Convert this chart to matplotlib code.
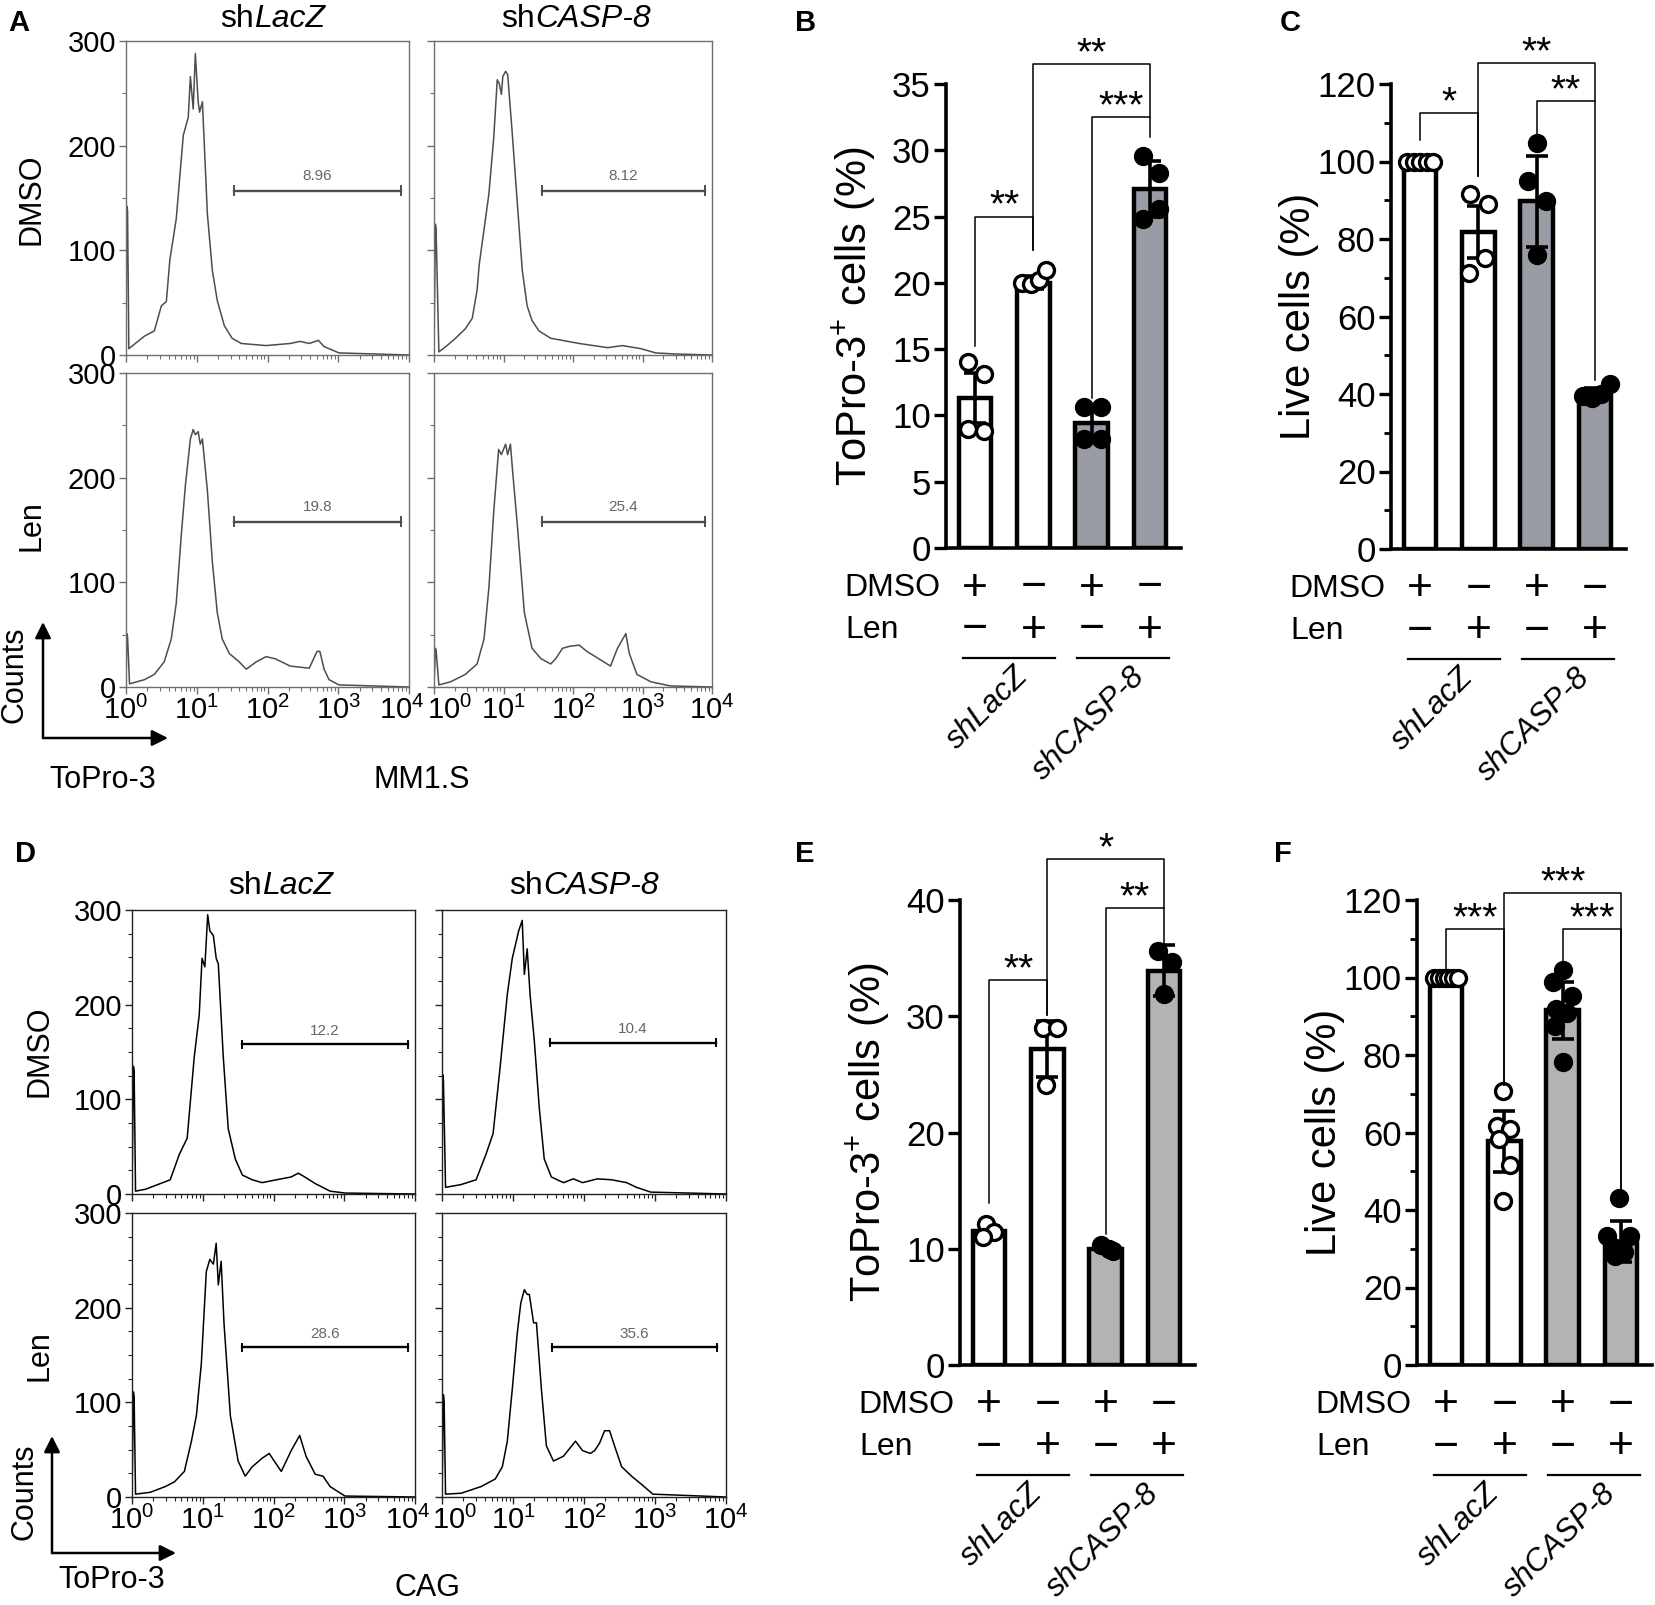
import numpy as np
import matplotlib.pyplot as plt
from matplotlib.ticker import FixedLocator, NullFormatter, MultipleLocator, LogLocator

plt.rcParams['font.family'] = ['Liberation Sans', 'DejaVu Sans']
plt.rcParams['mathtext.fontset'] = 'custom'
plt.rcParams['mathtext.rm'] = 'Liberation Sans'
plt.rcParams['mathtext.it'] = 'Liberation Sans:italic'
plt.rcParams['mathtext.default'] = 'regular'

# ---------------- data: flow histograms (log10 intensity, counts) ----------------
A_lacz_dmso_x = [0.0, 0.012, 0.022, 0.04, 0.26, 0.40, 0.50, 0.57, 0.62, 0.71, 0.81, 0.88, 0.91, 0.95, 0.98, 1.02,
                 1.04, 1.08, 1.15, 1.22, 1.29, 1.39, 1.50, 1.63, 1.98, 2.32, 2.46, 2.59, 2.72, 2.80, 3.01, 4.0]
A_lacz_dmso_y = [0, 142, 138, 6, 18, 23, 47, 51, 91, 130, 210, 227, 266, 235, 288, 242,
                 232, 242, 135, 81, 52, 28, 16, 11, 9, 11, 13, 11, 14, 8, 2, 0]
A_casp_dmso_x = [0.0, 0.02, 0.03, 0.07, 0.17, 0.31, 0.45, 0.55, 0.62, 0.65, 0.72, 0.79, 0.86, 0.91, 0.94, 0.97, 0.99,
                 1.03, 1.06, 1.12, 1.20, 1.27, 1.34, 1.41, 1.51, 1.68, 2.09, 2.50, 2.71, 2.98, 3.19, 3.46, 4.0]
A_casp_dmso_y = [0, 125, 120, 3, 8, 16, 25, 35, 62, 86, 120, 154, 208, 263, 259, 249, 266,
                 271, 268, 217, 144, 81, 47, 33, 23, 16, 11, 7, 9, 6, 2, 1, 0]
A_lacz_len_x = [0.0, 0.012, 0.022, 0.05, 0.26, 0.40, 0.54, 0.64, 0.71, 0.78, 0.84, 0.91, 0.95, 0.98, 1.02, 1.05, 1.08,
                1.15, 1.22, 1.29, 1.36, 1.46, 1.60, 1.70, 1.84, 1.98, 2.11, 2.32, 2.59, 2.70, 2.74, 2.80, 2.87, 3.01, 4.0]
A_lacz_len_y = [0, 51, 48, 3, 7, 12, 24, 46, 80, 144, 193, 237, 246, 241, 244, 232, 237,
                188, 120, 71, 46, 32, 24, 17, 24, 29, 27, 20, 18, 34, 34, 17, 7, 2, 0]
A_casp_len_x = [0.0, 0.02, 0.03, 0.07, 0.24, 0.45, 0.62, 0.72, 0.79, 0.86, 0.93, 0.97, 1.03, 1.06, 1.10, 1.13, 1.20,
                1.30, 1.41, 1.54, 1.68, 1.75, 1.85, 1.96, 2.09, 2.20, 2.37, 2.54, 2.64, 2.76, 2.81, 2.92, 3.12, 3.40, 4.0]
A_casp_len_y = [0, 37, 35, 2, 5, 12, 22, 46, 95, 168, 227, 222, 232, 222, 232, 207, 154,
                71, 37, 27, 22, 27, 37, 39, 40, 34, 27, 20, 37, 51, 32, 12, 5, 1, 0]

D_lacz_dmso_x = [0.0, 0.02, 0.03, 0.05, 0.19, 0.40, 0.54, 0.67, 0.78, 0.88, 0.95, 0.99, 1.03, 1.07, 1.10, 1.15,
                 1.19, 1.22, 1.29, 1.36, 1.46, 1.56, 1.70, 1.84, 2.04, 2.25, 2.35, 2.42, 2.59, 2.80, 3.01, 4.0]
D_lacz_dmso_y = [0, 135, 130, 3, 5, 11, 15, 42, 59, 145, 189, 249, 240, 295, 278, 273,
                 249, 243, 145, 69, 37, 20, 15, 12, 15, 18, 22, 19, 11, 3, 1, 0]
D_casp_dmso_x = [0.0, 0.01, 0.02, 0.05, 0.27, 0.48, 0.62, 0.72, 0.82, 0.92, 0.99, 1.04, 1.08, 1.13, 1.16,
                 1.20, 1.24, 1.30, 1.37, 1.44, 1.54, 1.71, 1.85, 1.98, 2.19, 2.39, 2.60, 2.74, 2.94, 4.0]
D_casp_dmso_y = [0, 126, 120, 7, 10, 15, 42, 64, 135, 211, 249, 265, 278, 289, 232,
                 259, 211, 162, 91, 37, 18, 12, 16, 12, 16, 15, 12, 7, 2, 0]
D_lacz_len_x = [0.0, 0.02, 0.03, 0.05, 0.26, 0.47, 0.60, 0.74, 0.84, 0.91, 0.98, 1.05, 1.10, 1.15, 1.19, 1.22, 1.26,
                1.30, 1.39, 1.50, 1.60, 1.70, 1.84, 1.94, 2.01, 2.11, 2.25, 2.37, 2.46, 2.59, 2.70, 2.80, 3.01, 4.0]
D_lacz_len_y = [0, 111, 105, 3, 5, 11, 16, 27, 59, 86, 141, 238, 251, 246, 268, 224, 249,
                184, 86, 38, 22, 32, 41, 46, 38, 27, 49, 65, 43, 24, 22, 11, 1, 0]
D_casp_len_x = [0.0, 0.02, 0.03, 0.05, 0.27, 0.55, 0.75, 0.85, 0.92, 0.99, 1.06, 1.11, 1.16, 1.20, 1.23, 1.29, 1.33,
                1.40, 1.47, 1.57, 1.71, 1.88, 1.98, 2.09, 2.15, 2.22, 2.29, 2.36, 2.43, 2.53, 2.67, 2.80, 2.97, 4.0]
D_casp_len_y = [0, 108, 100, 3, 4, 11, 19, 32, 59, 114, 173, 205, 219, 214, 214, 184, 184,
                114, 54, 38, 43, 59, 49, 46, 49, 57, 70, 70, 54, 32, 22, 14, 3, 0]

# gates: (log10 start, log10 end, counts level) and percentages
A_gates = [(1.53, 3.88, 157), (1.557, 3.897, 157), (1.53, 3.88, 158), (1.557, 3.897, 158)]
A_gate_txt = ['8.96', '8.12', '19.8', '25.4']
D_gates = [(1.55, 3.90, 158), (1.52, 3.86, 160), (1.55, 3.90, 158), (1.55, 3.88, 158)]
D_gate_txt = ['12.2', '10.4', '28.6', '35.6']
decade_labels = [r'$10^{%d}$' % k for k in range(5)]

# ---------------- data: bar charts ----------------
dmso_signs = ['+', '\u2212', '+', '\u2212']
len_signs = ['\u2212', '+', '\u2212', '+']
groups = ['shLacZ', 'shCASP-8']

B_mean = [11.3, 20.0, 9.4, 27.1]
B_sd = [1.9, 0.5, 1.0, 2.1]
B_pts = [[14.0, 13.1, 9.0, 8.8], [20.0, 19.9, 20.2, 21.0], [10.6, 10.6, 8.2, 8.2], [29.6, 28.3, 24.8, 25.6]]
B_jit = [[-0.12, 0.15, -0.12, 0.15], [-0.2, -0.05, 0.1, 0.22], [-0.13, 0.15, -0.13, 0.15], [-0.12, 0.15, -0.12, 0.15]]
B_sig = [(0, 1, 25.0, 15.2, 22.5, '**'), (2, 3, 32.5, 11.3, 31.0, '***'), (1, 3, 36.5, 22.5, 32.5, '**')]

C_mean = [100.0, 81.8, 89.7, 40.2]
C_sd = [0.3, 6.6, 11.8, 1.3]
C_pts = [[100, 100, 100, 100, 100], [91.7, 89.0, 75.2, 71.2], [104.8, 94.9, 89.7, 75.8], [39.5, 39.0, 40.0, 42.5]]
C_jit = [[-0.22, -0.11, 0.0, 0.11, 0.22], [-0.15, 0.17, 0.12, -0.17], [0.0, -0.15, 0.15, 0.0], [-0.2, -0.05, 0.1, 0.25]]
C_sig = [(0, 1, 112.5, 105.5, 96.3, '*'), (2, 3, 115.6, 106.8, 43.5, '**'), (1, 3, 125.3, 96.3, 115.6, '**')]

E_mean = [11.5, 27.2, 10.0, 33.9]
E_sd = [0.5, 2.4, 0.2, 2.2]
E_pts = [[12.1, 11.4, 11.0], [29.0, 29.0, 24.1], [10.3, 10.0, 9.8], [35.6, 34.7, 31.9]]
E_jit = [[-0.05, 0.08, -0.1], [-0.07, 0.17, -0.02], [-0.08, 0.05, 0.12], [-0.1, 0.13, 0.0]]
E_sig = [(0, 1, 33.1, 13.9, 30.1, '**'), (2, 3, 39.3, 11.3, 35.8, '**'), (1, 3, 43.5, 30.1, 39.3, '*')]

F_mean = [100.0, 57.7, 91.5, 31.8]
F_sd = [0.5, 7.9, 7.3, 5.3]
F_pts = [[100, 100, 100, 100, 100, 100], [70.6, 61.7, 61.0, 58.4, 51.7, 42.4],
         [101.9, 98.8, 95.2, 91.8, 90.8, 87.5, 78.2], [43.1, 33.4, 33.4, 30.5, 29.2, 28.1]]
F_jit = [[-0.2, -0.12, -0.04, 0.04, 0.12, 0.2], [-0.03, -0.12, 0.1, -0.1, 0.1, -0.03],
         [0.0, -0.16, 0.15, -0.11, 0.08, -0.13, 0.0], [-0.03, -0.24, 0.15, -0.14, 0.05, -0.1]]
F_sig = [(0, 1, 112.5, 101.5, 72.3, '***'), (2, 3, 112.5, 103.4, 43.8, '***'), (1, 3, 121.7, 72.3, 43.8, '***')]

# ---------------- layout helpers ----------------
W, H = 1655, 1605
fig = plt.figure(figsize=(W / 100, H / 100), dpi=100)


def box(l, t, r, b):
    return [l / W, 1 - b / H, (r - l) / W, (b - t) / H]


ov = fig.add_axes([0, 0, 1, 1])
ov.set_xlim(0, W)
ov.set_ylim(H, 0)
ov.axis('off')


def flow(rect, lx, cnt, gate, gtxt, col, frame, ylab, xlab, ystep, shift):
    ax = fig.add_axes(box(*rect))
    ax.plot(10 ** np.array(lx), cnt, color=col, lw=1.1)
    ax.set_xscale('log')
    ax.set_xlim(1, 1e4)
    ax.set_ylim(0, 300)
    ax.xaxis.set_major_locator(FixedLocator([1, 10, 100, 1000, 10000]))
    ax.xaxis.set_minor_locator(LogLocator(base=10, subs=np.arange(2, 10), numticks=20))
    ax.xaxis.set_minor_formatter(NullFormatter())
    ax.yaxis.set_major_locator(FixedLocator([0, 100, 200, 300]))
    ax.yaxis.set_minor_locator(MultipleLocator(ystep))
    ax.set_xticklabels([])
    if xlab:
        # decade labels; the outermost ones are nudged apart like the original
        for k, lab in enumerate(decade_labels):
            dx = shift.get(k, 0)
            ax.annotate(lab, xy=(10 ** k, 0), xycoords=('data', 'axes fraction'), xytext=(dx, -6),
                        textcoords='offset points', ha='center', va='top', fontsize=21, annotation_clip=False)
    if ylab:
        ax.set_yticklabels(['0', '100', '200', '300'], fontsize=21)
    else:
        ax.set_yticklabels([])
    for s in ax.spines.values():
        s.set_color(frame)
        s.set_linewidth(1.0)
    ax.tick_params(which='major', length=5, width=1.0, color=frame, pad=2)
    ax.tick_params(which='minor', length=3, width=0.8, color=frame)
    g0, g1 = 10 ** gate[0], 10 ** gate[1]
    gy = gate[2]
    ax.plot([g0, g1], [gy, gy], color=col, lw=1.7)
    ax.plot([g0, g0], [gy - 4, gy + 4], color=col, lw=1.4)
    ax.plot([g1, g1], [gy - 4, gy + 4], color=col, lw=1.4)
    ax.text(np.sqrt(g0 * g1), gy + 7, gtxt, ha='center', va='bottom', fontsize=11, color='#666666')
    return ax


def sh_title(xsplit, ybase, gene):
    ov.text(xsplit, ybase, 'sh', ha='right', va='baseline', fontsize=23)
    ov.text(xsplit, ybase, gene, ha='left', va='baseline', fontsize=23, style='italic')


# ---------------- panels A and D ----------------
A_rects = [(126, 41, 409, 355), (434, 41, 712, 355), (126, 373, 409, 687), (434, 373, 712, 687)]
A_x = [A_lacz_dmso_x, A_casp_dmso_x, A_lacz_len_x, A_casp_len_x]
A_y = [A_lacz_dmso_y, A_casp_dmso_y, A_lacz_len_y, A_casp_len_y]
A_shift = [{}, {}, {4: -5}, {0: 11}]
for k in range(4):
    flow(A_rects[k], A_x[k], A_y[k], A_gates[k], A_gate_txt[k], '#4d4d4d', '#6e6e6e',
         k % 2 == 0, k >= 2, 50, A_shift[k])

D_rects = [(132, 910, 415, 1194), (442, 910, 726, 1194), (132, 1213, 415, 1497), (442, 1213, 726, 1497)]
D_x = [D_lacz_dmso_x, D_casp_dmso_x, D_lacz_len_x, D_casp_len_x]
D_y = [D_lacz_dmso_y, D_casp_dmso_y, D_lacz_len_y, D_casp_len_y]
D_shift = [{}, {}, {4: -5}, {0: 9}]
for k in range(4):
    flow(D_rects[k], D_x[k], D_y[k], D_gates[k], D_gate_txt[k], 'black', '#222222',
         k % 2 == 0, k >= 2, 25, D_shift[k])

sh_title(254, 27, 'LacZ')
sh_title(535, 27, 'CASP-8')
sh_title(262, 894, 'LacZ')
sh_title(543, 894, 'CASP-8')

for (x, y, s) in [(31, 199, 'DMSO'), (31, 526, 'Len'), (39, 1051, 'DMSO'), (39, 1356, 'Len')]:
    ov.text(x, y, s, rotation=90, ha='center', va='center', fontsize=22)

arrow = dict(arrowstyle='-|>', lw=1.8, color='black', mutation_scale=24, shrinkA=0, shrinkB=0)
for (x0, y0, ytop, xright, cy, ty, lab, lx, ly) in [(43, 738, 622, 168, 675, 780, 'MM1.S', 422, 780),
                                                    (52, 1553, 1436, 176, 1492, 1580, 'CAG', 427, 1588)]:
    ov.annotate('', xy=(x0, ytop), xytext=(x0, y0), arrowprops=arrow)
    ov.annotate('', xy=(xright, y0), xytext=(x0, y0), arrowprops=arrow)
    ov.text(x0 - 28, cy, 'Counts', rotation=90, ha='center', va='center', fontsize=22)
    ov.text(x0 + 60, ty, 'ToPro-3', ha='center', va='center', fontsize=22)
    ov.text(lx, ly, lab, ha='center', va='center', fontsize=22)


# ---------------- bar panels ----------------
def barpanel(rect, means, sds, pts, jit, sig, fill, ymax, major, minor, ylab):
    ax = fig.add_axes(box(*rect))
    x = np.arange(4)
    fills = ['white', 'white', fill, fill]
    ax.bar(x, means, width=0.56, color=fills, edgecolor='black', linewidth=3.2, zorder=2)
    ax.errorbar(x, means, yerr=sds, fmt='none', ecolor='black', elinewidth=2.6,
                capsize=8, capthick=2.6, zorder=3)
    for i in range(4):
        face = 'white' if i < 2 else 'black'
        ax.plot(x[i] + np.array(jit[i]), pts[i], 'o', ms=11.5, mfc=face, mec='black',
                mew=2.4, zorder=4, clip_on=False)
    ax.set_xlim(-0.5, 3.53)
    ax.set_ylim(0, ymax)
    ax.yaxis.set_major_locator(MultipleLocator(major))
    if minor:
        ax.yaxis.set_minor_locator(MultipleLocator(minor))
    ax.set_xticks([])
    for s in ['top', 'right']:
        ax.spines[s].set_visible(False)
    for s in ['left', 'bottom']:
        ax.spines[s].set_linewidth(2.6)
    ax.tick_params(axis='y', which='major', length=9, width=2.4, labelsize=25, pad=2)
    ax.tick_params(axis='y', which='minor', length=5, width=2.0)
    for (i, j, top, yl, yr, s) in sig:
        ax.plot([i, i, j, j], [yl, top, top, yr], color='black', lw=1.1, clip_on=False, zorder=5)
        ax.text((i + j) / 2, top, s, ha='center', va='baseline', fontsize=28)
    tr = ax.get_xaxis_transform()
    hpx = rect[3] - rect[1]
    yd, yln, yg, ylab_pos = -40 / hpx, -82 / hpx, -110 / hpx, -113 / hpx
    for i in range(4):
        ax.text(i, yd, dmso_signs[i], transform=tr, ha='center', va='center', fontsize=32, clip_on=False)
        ax.text(i, yln, len_signs[i], transform=tr, ha='center', va='center', fontsize=32, clip_on=False)
    ax.text(-0.6, yd, 'DMSO', transform=tr, ha='right', va='center', fontsize=23)
    ax.text(-2.23, yln, 'Len', transform=tr, ha='left', va='center', fontsize=23)
    for (a, b) in [(-0.21, 1.37), (1.75, 3.33)]:
        ax.plot([a, b], [yg, yg], transform=tr, color='black', lw=1.6, clip_on=False)
    for g, xc in zip(groups, [0.5, 2.5]):
        ax.text(xc + 0.15, ylab_pos, g, transform=tr, rotation=45, rotation_mode='anchor',
                ha='right', va='top', fontsize=22.5, style='italic')
    ov.text(rect[0] - 92, (rect[1] + rect[3]) / 2, ylab, rotation=90, ha='center', va='center', fontsize=30)
    return ax


barpanel((946, 84, 1181, 548), B_mean, B_sd, B_pts, B_jit, B_sig, '#999ca4', 35, 5, None,
         r'ToPro-3$^{+}$ cells (%)')
barpanel((1391, 84, 1626, 549), C_mean, C_sd, C_pts, C_jit, C_sig, '#999ca4', 120, 20, 10,
         'Live cells (%)')
barpanel((960, 900, 1195, 1365), E_mean, E_sd, E_pts, E_jit, E_sig, '#b3b3b3', 40, 10, None,
         r'ToPro-3$^{+}$ cells (%)')
barpanel((1417, 900, 1652, 1365), F_mean, F_sd, F_pts, F_jit, F_sig, '#b3b3b3', 120, 20, 10,
         'Live cells (%)')

for (x, y, s) in [(8, 23, 'A'), (795, 23, 'B'), (1280, 23, 'C'), (15, 854, 'D'), (795, 854, 'E'), (1274, 854, 'F')]:
    ov.text(x, y, s, ha='left', va='center', fontsize=21, fontweight='bold')

fig.savefig('out.png', dpi=100)
